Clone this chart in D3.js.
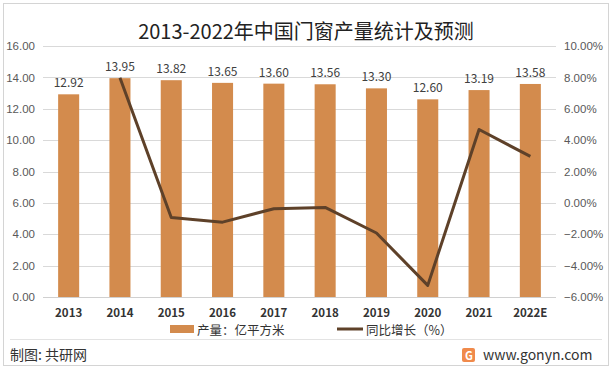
<!DOCTYPE html>
<meta charset="utf-8">
<title>2013-2022年中国门窗产量统计及预测</title>
<style>
  body { margin: 0; background: #fff; }
  svg { display: block; font-family: "Microsoft YaHei", "Noto Sans CJK SC", "DejaVu Sans", sans-serif; }
  .grid line { stroke: #d9d9d9; stroke-width: 1; }
  .tick text { fill: #595959; font-size: 11.5px; }
</style>
<body>
<script src="https://cdn.jsdelivr.net/npm/d3@7/dist/d3.min.js"></script>
<script>
const years = ['2013', '2014', '2015', '2016', '2017', '2018', '2019', '2020', '2021', '2022E'];
const output = [12.92, 13.95, 13.82, 13.65, 13.60, 13.56, 13.30, 12.60, 13.19, 13.58];
// growth starts from 2014
const growth = [null, 7.97, -0.93, -1.23, -0.37, -0.29, -1.92, -5.26, 4.68, 2.96];
const leftTicks = [0, 2, 4, 6, 8, 10, 12, 14, 16];
const rightTicks = [-6, -4, -2, 0, 2, 4, 6, 8, 10];

const W = 613, H = 370;
const plot = { left: 43, right: 556, top: 46, bottom: 297 };

const svg = d3.select('body').append('svg')
    .attr('width', W).attr('height', H);

// frame
svg.append('rect')
    .attr('x', 3.5).attr('y', 3.5)
    .attr('width', 605).attr('height', 362)
    .attr('fill', '#fff').attr('stroke', '#d4d4d4');
svg.append('line')
    .attr('x1', 10).attr('x2', 602)
    .attr('y1', 339.5).attr('y2', 339.5)
    .attr('stroke', '#e3e3e3');

const x = d3.scaleBand().domain(years)
    .range([plot.left, plot.right])
    .paddingInner(0.59).paddingOuter(0.295);
const y = d3.scaleLinear().domain([0, 16]).range([plot.bottom, plot.top]);
const y2 = d3.scaleLinear().domain([-6, 10]).range([plot.bottom, plot.top]);

// grid
svg.append('g').attr('class', 'grid')
  .selectAll('line').data(leftTicks).join('line')
    .attr('x1', plot.left).attr('x2', plot.right)
    .attr('y1', d => Math.round(y(d)) + 0.5).attr('y2', d => Math.round(y(d)) + 0.5);

// left axis
const gl = svg.append('g')
    .attr('transform', `translate(${plot.left - 8},0)`)
    .call(d3.axisLeft(y).tickValues(leftTicks).tickSize(0).tickFormat(d3.format('.2f')));
gl.select('.domain').remove();
gl.selectAll('text').attr('x', 0).attr('text-anchor', 'end');

// right axis
const gr = svg.append('g')
    .attr('transform', `translate(${plot.right + 8},0)`)
    .call(d3.axisRight(y2).tickValues(rightTicks).tickSize(0).tickFormat(d => d3.format('.2f')(d) + '%'));
gr.select('.domain').remove();
gr.selectAll('text').attr('x', 0);

// bars
svg.append('g').selectAll('rect').data(output).join('rect')
    .attr('x', (d, i) => x(years[i]))
    .attr('y', d => y(d))
    .attr('width', x.bandwidth())
    .attr('height', d => y(0) - y(d))
    .attr('fill', '#d38b4d');

// baseline
svg.append('line')
    .attr('x1', plot.left).attr('x2', plot.right)
    .attr('y1', plot.bottom + 0.5).attr('y2', plot.bottom + 0.5)
    .attr('stroke', '#d0d0d0');

// bar labels
svg.append('g').selectAll('text').data(output).join('text')
    .attr('x', (d, i) => x(years[i]) + x.bandwidth() / 2)
    .attr('y', d => y(d) - 7)
    .attr('text-anchor', 'middle')
    .attr('fill', '#404040')
    .attr('font-size', 12)
    .text(d => d.toFixed(2));

// growth line
const line = d3.line()
    .defined(d => d != null)
    .x((d, i) => x(years[i]) + x.bandwidth() / 2)
    .y(d => y2(d));
svg.append('path')
    .datum(growth)
    .attr('d', line)
    .attr('fill', 'none')
    .attr('stroke', '#5e4129')
    .attr('stroke-width', 3)
    .attr('stroke-linejoin', 'round');

// x labels
svg.append('g').selectAll('text').data(years).join('text')
    .attr('x', d => x(d) + x.bandwidth() / 2)
    .attr('y', 316.5)
    .attr('text-anchor', 'middle')
    .attr('fill', '#333')
    .attr('font-size', 11.5)
    .attr('font-weight', 'bold')
    .text(d => d);

// title
svg.append('text')
    .attr('x', 306).attr('y', 39)
    .attr('text-anchor', 'middle')
    .attr('fill', '#222')
    .attr('font-size', 20)
    .text('2013-2022年中国门窗产量统计及预测');

// legend
const lg = svg.append('g').attr('font-size', 12.5).attr('fill', '#333');
lg.append('rect').attr('x', 170).attr('y', 325).attr('width', 24).attr('height', 8).attr('fill', '#d38b4d');
lg.append('text').attr('x', 197).attr('y', 334.5).attr('fill', '#333').text('产量：亿平方米');
lg.append('line').attr('x1', 337).attr('x2', 363).attr('y1', 329).attr('y2', 329)
    .attr('stroke', '#5e4129').attr('stroke-width', 3);
lg.append('text').attr('x', 366).attr('y', 334.5).attr('fill', '#333').text('同比增长（%）');

// footer
svg.append('text')
    .attr('x', 10).attr('y', 360)
    .attr('font-size', 14).attr('fill', '#333')
    .text('制图: 共研网');
svg.append('rect')
    .attr('x', 462).attr('y', 348).attr('width', 13).attr('height', 14)
    .attr('rx', 2).attr('fill', '#f08a4b');
svg.append('text')
    .attr('x', 465).attr('y', 359.5)
    .attr('font-size', 11).attr('font-weight', 'bold').attr('fill', '#fff')
    .text('G');
svg.append('text')
    .attr('x', 483).attr('y', 360)
    .attr('font-size', 14).attr('fill', '#333')
    .text('www.gonyn.com');
</script>
</body>
